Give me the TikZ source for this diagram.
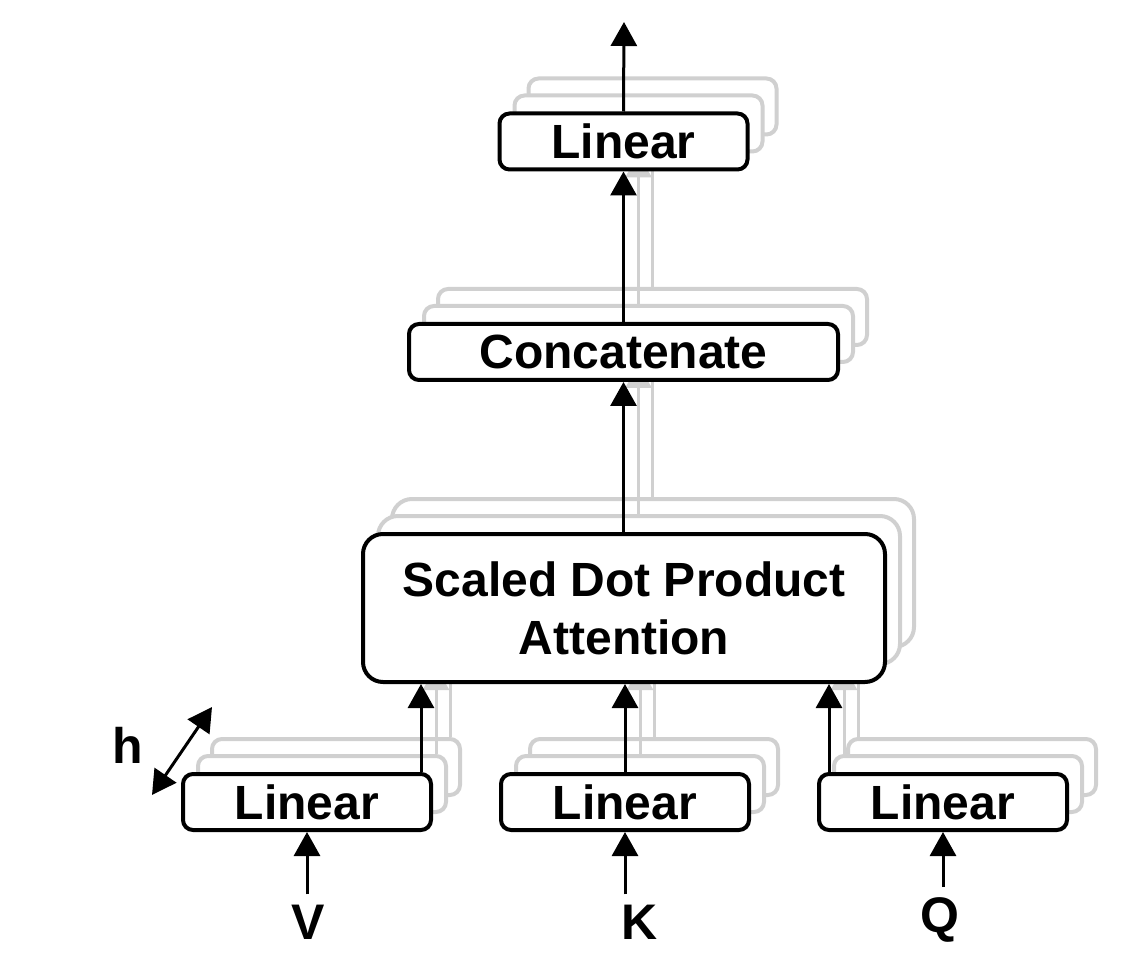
\documentclass[tikz,border=0pt]{standalone}
\usepackage{fontspec}
\setmainfont{Liberation Sans}
\usetikzlibrary{arrows.meta}

\definecolor{layergray}{RGB}{208,208,208}

\newcommand{\showtxt}[1]{#1}
\newcommand{\hidetxt}[1]{}

\tikzset{
  blk/.style={draw, line width=2pt, fill=white, inner sep=0pt,
    rounded corners=5pt, align=center,
    font=\bfseries\fontsize{24}{29}\selectfont},
  linbox/.style={blk, minimum width=124pt, minimum height=28pt},
  catbox/.style={blk, minimum width=214.5pt, minimum height=28pt},
  attbox/.style={blk, minimum width=261pt, minimum height=74pt, rounded corners=10pt},
  arr/.style={line width=1.5pt, -{Triangle[length=12pt,width=13pt]}},
  lbl/.style={inner sep=5pt, font=\bfseries\fontsize{25}{30}\selectfont},
  ghost/.style={color=layergray},
  solid layer/.style={color=black}
}

% one head: linear V/K/Q -> attention -> concat -> linear
\newcommand{\HeadLayer}[5]{%
  \begin{scope}[shift={(#2,#3)}, #4]
    \node[linbox] (linv#1) at (307,802) {#5{Linear}};
    \node[linbox] (link#1) at (625,802) {#5{Linear}};
    \node[linbox] (linq#1) at (943,802) {#5{Linear}};
    \node[attbox] (sdpa#1) at (624,608) {#5{Scaled Dot Product\\Attention}};
    \node[catbox] (concat#1) at (623.5,352) {#5{Concatenate}};
    \node[linbox] (linout#1) at (623.5,141.5) {#5{Linear}};
    \path ([xshift=-6pt]linv#1.north east) coordinate (vtop#1);
    \path ([xshift=6pt]linq#1.north west) coordinate (qtop#1);
    \draw[arr] (vtop#1) -- (vtop#1 |- sdpa#1.south);
    \draw[arr] (link#1.north) -- (link#1.north |- sdpa#1.south);
    \draw[arr] (qtop#1) -- (qtop#1 |- sdpa#1.south);
    \draw[arr] (sdpa#1.north -| concat#1.south) -- (concat#1.south);
    \draw[arr] (concat#1.north) -- (linout#1.south);
  \end{scope}
}

\begin{document}
\begin{tikzpicture}[x=0.5pt, y=-0.5pt]
  \useasboundingbox (0,0) rectangle (1131,957);

  \HeadLayer{b}{29}{-35}{ghost}{\hidetxt}
  \HeadLayer{a}{15}{-18}{ghost}{\hidetxt}
  \HeadLayer{}{0}{0}{solid layer}{\showtxt}

  % inputs
  \node[lbl] (inV) at (308,922) {V};
  \node[lbl] (inK) at (640,922) {K};
  \node[lbl] (inQ) at (940,920) {Q};
  \draw[arr] (inV.north -| linv.south) -- (linv.south);
  \draw[arr] (inK.north -| link.south) -- (link.south);
  \draw[arr] (inQ.north -| linq.south) -- (linq.south);

  % output
  \coordinate (out) at (624,22);
  \draw[arr] (linout.north) -- (out);

  % number of heads
  \node[lbl] (hlab) at (128,745) {h};
  \coordinate (hlo) at (152,795);
  \coordinate (hhi) at (212,707);
  \draw[line width=1.5pt, {Triangle[length=12pt,width=13pt]}-{Triangle[length=12pt,width=13pt]}] (hlo) -- (hhi);
\end{tikzpicture}
\end{document}
